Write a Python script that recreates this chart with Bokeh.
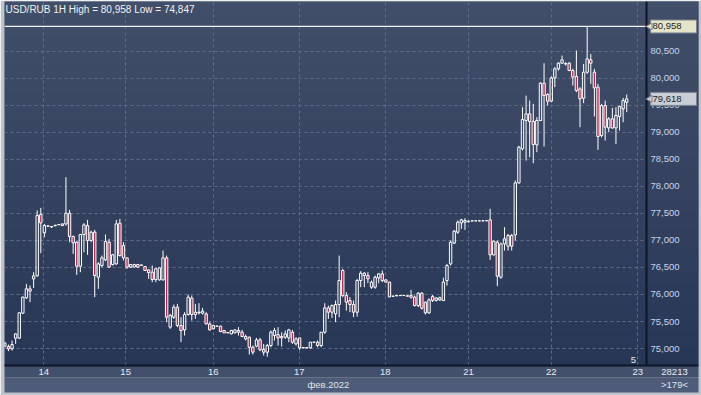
import numpy as np
from bokeh.plotting import figure
from bokeh.models import (ColumnDataSource, Range1d, LinearAxis, FixedTicker,
                          NumeralTickFormatter, Span, Label)
from bokeh.core.properties import value
from bokeh.embed import file_html
from bokeh.resources import INLINE

# ---------------- data (USD/RUB, 1 hour bars) ----------------
opens = [75043, 75037, 74994, 75191, 75191, 75654, 75937, 76104, 76289, 76344,
         77479, 77140, 77263, 77257, 77270, 77290, 77306, 77306, 77504, 77072,
         76967, 76523, 77109, 77275, 76998, 77152, 76320, 76536, 76640, 76967,
         76554, 76566, 77319, 76905, 76677, 76505, 76510, 76554, 76540, 76517,
         76455, 76412, 76276, 76270, 76270, 76677, 75395, 75580, 75765, 75425,
         75345, 75629, 75931, 75629, 75660, 75654, 75641, 75456, 75364, 75413,
         75413, 75333, 75290, 75271, 75290, 75302, 75302, 75179, 75210, 75024,
         75043, 75160, 74981, 74932, 75055, 75240, 75259, 75197, 75210, 75197,
         75302, 75086, 75197, 75012, 75018, 75012, 75117, 75117, 75055, 75302,
         75752, 75672, 75641, 75814, 76443, 75980, 75888, 75814, 75672, 76258,
         76350, 76350, 76135, 76135, 76307, 76381, 76270, 76227, 75968, 75975,
         75980, 75980, 75975, 75980, 75950, 75795, 76024, 75857, 75660, 75960,
         75890, 75900, 75888, 76258, 76566, 76950, 77152, 77325, 77337, 77345,
         77362, 77362, 77362, 77362, 77362, 77380, 76733, 76967, 76320, 76936,
         76893, 77090, 77103, 78065, 78694, 79218, 79341, 79199, 78768, 79218,
         79909, 79699, 79576, 80007, 80174, 80279, 80266, 80279, 80143, 80032,
         79804, 79631, 80112, 80340, 80112, 79835, 78940, 79495, 79082, 79249,
         79082, 79292, 79434, 79557]
highs = [75129, 75074, 75148, 75284, 75672, 75962, 76196, 76165, 76412, 77553,
         77602, 77306, 77275, 77263, 77290, 77300, 77310, 78170, 77565, 77090,
         76986, 77121, 77319, 77380, 77180, 77195, 76597, 76720, 77109, 77029,
         76751, 77380, 77399, 76967, 76680, 76560, 76565, 76560, 76550, 76520,
         76468, 76536, 76492, 76505, 76813, 76720, 75641, 75814, 75826, 75580,
         75672, 75999, 75980, 75826, 75839, 75752, 75672, 75487, 75440, 75420,
         75426, 75340, 75300, 75345, 75355, 75395, 75345, 75259, 75222, 75055,
         75197, 75197, 75086, 75086, 75333, 75382, 75395, 75302, 75333, 75364,
         75345, 75210, 75197, 75024, 75024, 75117, 75122, 75148, 75302, 75839,
         75795, 75814, 75888, 76720, 76474, 76042, 75950, 75888, 76289, 76431,
         76412, 76412, 76258, 76350, 76394, 76443, 76280, 76239, 75975, 75985,
         75985, 75985, 75980, 76085, 75980, 76042, 76042, 75870, 75930, 75990,
         75950, 75960, 76310, 76566, 76998, 77195, 77368, 77399, 77410, 77370,
         77366, 77366, 77366, 77366, 77372, 77584, 76998, 76998, 76960, 77245,
         77121, 77121, 78108, 78750, 79465, 79680, 79588, 79526, 79280, 79927,
         80279, 79724, 80032, 80205, 80297, 80420, 80297, 80297, 80174, 80513,
         79835, 80266, 80958, 80451, 80174, 79896, 79526, 79588, 79280, 79452,
         79465, 79495, 79637, 79699]
lows = [75025, 74951, 74963, 75086, 75179, 75641, 75919, 75857, 76122, 76332,
        76764, 77060, 77257, 77230, 77263, 77285, 77270, 77275, 76967, 76751,
        76363, 76412, 76782, 76733, 76967, 75950, 76104, 76505, 76616, 76492,
        76536, 76548, 76702, 76628, 76474, 76490, 76500, 76500, 76535, 76440,
        76289, 76227, 76227, 76258, 76258, 75487, 75364, 75549, 75395, 75117,
        75240, 75611, 75518, 75549, 75629, 75629, 75444, 75333, 75355, 75405,
        75302, 75285, 75285, 75265, 75280, 75240, 75210, 75148, 74889, 74889,
        75024, 74951, 74870, 74847, 75024, 75148, 75055, 75037, 75179, 75117,
        75086, 75055, 74975, 75005, 75005, 74994, 75110, 75024, 75024, 75271,
        75549, 75567, 75487, 75580, 75950, 75703, 75672, 75580, 75592, 76135,
        76135, 76209, 76104, 76104, 76209, 76227, 76220, 75950, 75960, 75970,
        75975, 75975, 75965, 75919, 75777, 75765, 75721, 75630, 75640, 75860,
        75870, 75880, 75880, 76165, 76535, 76935, 77121, 77214, 77195, 77330,
        77358, 77358, 77358, 77358, 77358, 76640, 76720, 76153, 76290, 76813,
        76813, 76813, 76998, 78046, 78663, 78478, 78540, 78429, 78632, 79206,
        78737, 79495, 79557, 79835, 80143, 80266, 80235, 80131, 79865, 79742,
        79095, 79539, 80081, 79896, 79292, 78675, 78909, 78848, 79002, 79064,
        78786, 79033, 79187, 79372]
closes = [75099, 74994, 75074, 75271, 75660, 75950, 76104, 76061, 76344, 77460,
          77325, 77275, 77268, 77250, 77280, 77294, 77275, 77504, 77072, 76955,
          76523, 77109, 77288, 76998, 77152, 76350, 76566, 76677, 76979, 76505,
          76733, 77306, 76720, 76677, 76505, 76554, 76554, 76505, 76545, 76443,
          76406, 76276, 76474, 76492, 76677, 75580, 75611, 75765, 75425, 75333,
          75629, 75950, 75629, 75672, 75672, 75691, 75456, 75345, 75425, 75415,
          75314, 75290, 75295, 75333, 75345, 75333, 75222, 75222, 75024, 74932,
          75160, 74975, 74932, 75055, 75302, 75333, 75197, 75222, 75271, 75345,
          75117, 75179, 75012, 75018, 75012, 75117, 75117, 75055, 75302, 75752,
          75672, 75795, 75814, 76258, 75980, 75857, 75814, 75672, 76258, 76394,
          76394, 76289, 76227, 76320, 76381, 76258, 76227, 75955, 75968, 75980,
          75980, 75982, 75968, 75950, 75795, 76024, 75746, 75660, 75900, 75890,
          75935, 75940, 76230, 76535, 76967, 77171, 77337, 77380, 77368, 77356,
          77362, 77362, 77362, 77362, 77368, 76733, 76986, 76338, 76936, 77029,
          77090, 76893, 78065, 78725, 79236, 79341, 79199, 78774, 79218, 79909,
          79680, 79576, 80007, 80174, 80279, 80340, 80270, 80143, 80020, 79773,
          79619, 80112, 80359, 80279, 79822, 78922, 79495, 79095, 79249, 79082,
          79311, 79477, 79588, 79618]

day_ticks = [10.8, 33.6, 58.0, 81.9, 105.8, 129.0, 152.0, 176.1]
day_labels = ["14", "15", "16", "17", "18", "21", "22", "23"]
month_tick = [90.0]
month_labels = ["фев.2022"]
price_ticks = [75000, 75500, 76000, 76500, 77000, 77500, 78000, 78500,
               79000, 79500, 80000, 80500]
symbol = "USD/RUB 1H"
counter_text = "28213"
bars_text = ">179<"
scale_text = "5"

# ---------------- layout ----------------
W, H = 701, 395
LEFT, RIGHT, TOP, BOTTOM = 4, 3, 1, 30
PANEL = 52                       # right price panel (inside the frame)
FW, FH = W - LEFT - RIGHT, H - TOP - BOTTOM
BARS_W = FW - PANEL
x0, xs = -0.1, 178.5             # bar area
upx = (xs - x0) / BARS_W
y0, y1 = 74686, 81420
upy = (y1 - y0) / FH
x1 = xs + PANEL * upx
corner = xs + 28 * upx
FONT = "Liberation Sans"

p = figure(width=W, height=H, x_range=Range1d(x0, x1), y_range=Range1d(y0, y1),
           output_backend="svg", toolbar_location=None,
           x_axis_location="below", y_axis_location="right",
           min_border_left=LEFT, min_border_right=RIGHT,
           min_border_top=TOP, min_border_bottom=BOTTOM)
p.background_fill_color = "#36435f"
p.border_fill_color = "#bfc3ca"
p.outline_line_color = None


def gradient(n=64):
    t = np.linspace(0.0, 1.0, n)[:, None]
    c_top = np.array([65, 79, 106])
    c_bot = np.array([41, 55, 87])
    cols = (c_bot + (c_top - c_bot) * t).astype(np.uint8)
    img = np.zeros((n, 1), dtype=np.uint32)
    view = img.view(dtype=np.uint8).reshape((n, 1, 4))
    view[:, :, 0] = cols[:, 0:1]
    view[:, :, 1] = cols[:, 1:2]
    view[:, :, 2] = cols[:, 2:3]
    view[:, :, 3] = 255
    return img


# background of chart area (below grid) and of price panel (above grid)
p.image_rgba(image=[gradient()], x=x0, y=y0, dw=x1 - x0, dh=y1 - y0, level="image")
p.image_rgba(image=[gradient()], x=xs, y=y0, dw=x1 - xs, dh=y1 - y0)

# bottom axes
xt = day_ticks + [corner]
xl = day_labels + [counter_text]
xa = p.xaxis[0]
xa.ticker = FixedTicker(ticks=xt)
xa.major_label_overrides = {tk: lb for tk, lb in zip(xt, xl)}
xa.axis_line_color = "#0d1526"
xa.axis_line_width = 2
xa.major_tick_line_color = None
xa.minor_tick_line_color = None
xa.major_tick_out = 0
xa.major_tick_in = 0
xa.major_label_standoff = 3
xa.major_label_text_color = "#e6eaf2"
xa.major_label_text_font = FONT
xa.major_label_text_font_size = "9.5px"
try:
    xa.background_fill_color = "#42506c"
except Exception:
    pass

mt = month_tick + [corner]
ml = month_labels + [bars_text]
ma = LinearAxis(ticker=FixedTicker(ticks=mt),
                major_label_overrides={tk: lb for tk, lb in zip(mt, ml)})
ma.axis_line_color = None
ma.major_tick_line_color = None
ma.minor_tick_line_color = None
ma.major_tick_out = 0
ma.major_tick_in = 0
ma.major_label_standoff = 1
ma.major_label_text_color = "#dfe4ee"
ma.major_label_text_font = FONT
ma.major_label_text_font_size = "9.5px"
try:
    ma.background_fill_color = "#4e5c79"
except Exception:
    pass
p.add_layout(ma, "below")

# price axis: labels drawn back over the panel inside the frame
ya = p.yaxis[0]
ya.ticker = FixedTicker(ticks=price_ticks)
ya.formatter = NumeralTickFormatter(format="0,0")
ya.axis_line_color = None
ya.major_tick_line_color = None
ya.minor_tick_line_color = None
ya.major_tick_out = 0
ya.major_tick_in = 0
ya.major_label_standoff = -(PANEL - 4)
ya.major_label_text_color = "#c9d5ea"
ya.major_label_text_font = FONT
ya.major_label_text_font_size = "9.5px"

p.xgrid.grid_line_color = "#5e6d8d"
p.ygrid.grid_line_color = "#5e6d8d"
p.grid.grid_line_dash = "3 3"
p.grid.grid_line_width = 1

# candles
o = np.array(opens, float)
h = np.array(highs, float)
l = np.array(lows, float)
c = np.array(closes, float)
idx = np.arange(len(o))
btop = np.maximum(o, c)
bbot = np.minimum(o, c)
up = c >= o

wick = ColumnDataSource(dict(x=idx, h=h, l=l, bt=btop, bb=bbot))
p.segment(x0="x", y0="h", x1="x", y1="bt", source=wick, line_color="white", line_width=1)
p.segment(x0="x", y0="bb", x1="x", y1="l", source=wick, line_color="white", line_width=1)
up_src = ColumnDataSource(dict(x=idx[up], top=btop[up], bottom=bbot[up]))
dn_src = ColumnDataSource(dict(x=idx[~up], top=btop[~up], bottom=bbot[~up]))
p.vbar(x="x", width=0.66, top="top", bottom="bottom", source=up_src,
       fill_alpha=0, line_color="white", line_width=1)
p.vbar(x="x", width=0.66, top="top", bottom="bottom", source=dn_src,
       fill_color="#b8284c", line_color="white", line_width=1)

hi = float(h.max())
lo = float(l.min())
last = float(c[-1])

# high line across the bar area
p.segment(x0=[x0], y0=[hi], x1=[xs], y1=[hi], line_color="#f4f4f4", line_width=1.2)

# separator between chart and price panel
p.add_layout(Span(location=xs, dimension="height", line_color="#0d1526", line_width=2))

title = f"{symbol} High = {hi:,.0f} Low = {lo:,.0f}"
p.add_layout(Label(x=x0 + 1 * upx, y=y1 - 2 * upy, text=title, text_baseline="top",
                   text_align="left", text_color="#f2f2f2", text_font=FONT,
                   text_font_size="10px"))

# price boxes on the panel (drawn over the axis labels)
box_vals = [hi, last]
box_fill = ["#e4e4c8", "#c9cdd6"]
box_src = ColumnDataSource(dict(
    left=[xs + 4 * upx] * 2, right=[x1 - 2 * upx] * 2,
    bottom=[v - 6.5 * upy for v in box_vals], top=[v + 6.5 * upy for v in box_vals],
    y=box_vals, fill=box_fill, tx=[xs + 6 * upx] * 2,
    ax=[xs + 3.5 * upx] * 2,
    text=[f"{v:,.0f}" for v in box_vals]))
p.quad(left="left", right="right", bottom="bottom", top="top", source=box_src,
       fill_color="fill", line_color="#7d8290", line_width=1, level="overlay")
p.scatter(x="ax", y="y", source=box_src, marker="triangle", angle=np.pi / 2,
          size=7, fill_color="fill", line_color="#7d8290", line_width=1, level="overlay")
p.text(x="tx", y="y", text="text", source=box_src, text_baseline="middle",
       text_align="left", text_color="#1e1e1e", text_font=value(FONT),
       text_font_size="9.5px", level="overlay")

p.add_layout(Label(x=xs - 13 * upx, y=y0 + 3 * upy, text=scale_text, text_align="center",
                   text_baseline="bottom", text_color="#e6eaf2", text_font=FONT,
                   text_font_size="9.5px"))

open("out.html", "w").write(file_html(p, INLINE))
